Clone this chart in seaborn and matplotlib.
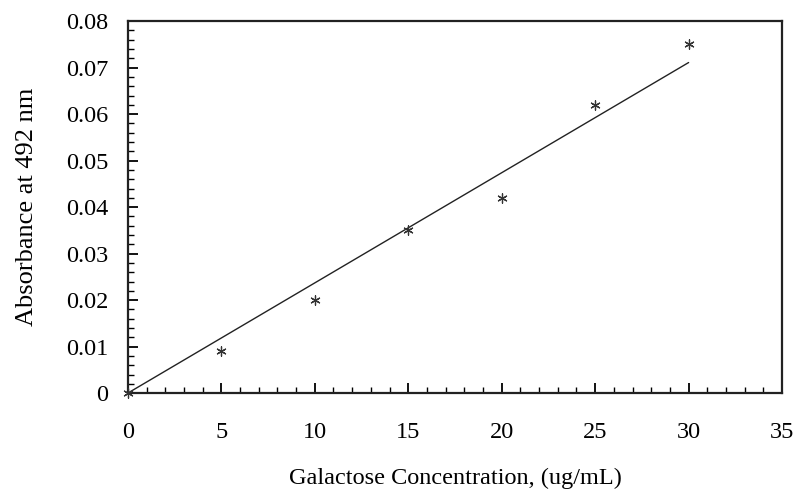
import matplotlib
matplotlib.use("Agg")
import matplotlib.pyplot as plt
import pandas as pd
import seaborn as sns
from matplotlib.ticker import MultipleLocator

# measured points
conc = [0, 5, 10, 15, 20, 25, 30]
absorbance = [0.0, 0.009, 0.020, 0.035, 0.042, 0.062, 0.075]

# linear trendline (endpoints)
trend_x = [0, 30]
trend_y = [0.0, 0.0711]

x_ticks = [0, 5, 10, 15, 20, 25, 30, 35]
y_ticks = [0, 0.01, 0.02, 0.03, 0.04, 0.05, 0.06, 0.07, 0.08]
y_tick_labels = ["0", "0.01", "0.02", "0.03", "0.04", "0.05", "0.06", "0.07", "0.08"]

sns.set_theme(style="white")
plt.rcParams["font.family"] = ["Liberation Serif", "DejaVu Serif"]

points = pd.DataFrame({"conc": conc, "abs": absorbance})
trend = pd.DataFrame({"conc": trend_x, "abs": trend_y})

fig = plt.figure(figsize=(7.94, 4.92), dpi=100)
ax = fig.add_axes([0.161, 0.201, 0.824, 0.756])

sns.lineplot(data=trend, x="conc", y="abs", color="#222222", linewidth=1.0, ax=ax)
sns.scatterplot(data=points, x="conc", y="abs", marker=(6, 2, 0), s=45,
                color="#333333", edgecolor="#333333", linewidth=0.9, ax=ax, zorder=3,
                clip_on=False)

ax.set_xlim(0, 35)
ax.set_ylim(0, 0.08)
ax.set_xticks(x_ticks)
ax.set_yticks(y_ticks)
ax.set_yticklabels(y_tick_labels)
ax.xaxis.set_minor_locator(MultipleLocator(1))
ax.yaxis.set_minor_locator(MultipleLocator(0.002))

ax.tick_params(axis="both", which="major", direction="in", length=7, width=1.3,
               labelsize=17.5, color="black", labelcolor="black",
               bottom=True, left=True, top=False, right=False)
ax.tick_params(axis="both", which="minor", direction="in", length=4, width=1.0,
               color="black", bottom=True, left=True, top=False, right=False)
ax.tick_params(axis="x", which="major", pad=21)
ax.tick_params(axis="y", which="major", pad=14)

for side in ["left", "bottom", "top", "right"]:
    ax.spines[side].set_visible(True)
    ax.spines[side].set_color("#222222")
    ax.spines[side].set_linewidth(1.6)

ax.set_xlabel("Galactose Concentration, (ug/mL)", fontsize=17.5, color="black", labelpad=18)
ax.set_ylabel("Absorbance at 492 nm", fontsize=19, color="black", labelpad=20)
ax.grid(False)

fig.savefig("out.png", dpi=100, facecolor="white")
